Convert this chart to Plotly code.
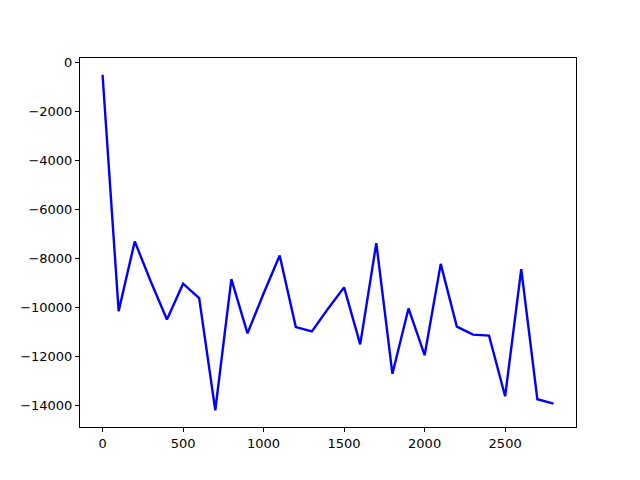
import plotly.graph_objects as go

x_vals = [0, 100, 200, 300, 400, 500, 600, 700, 800, 900, 1000, 1100, 1200, 1300, 1400,
          1500, 1600, 1700, 1800, 1900, 2000, 2100, 2200, 2300, 2400, 2500, 2600, 2700, 2800]
y_vals = [-490, -10150, -7300, -8950, -10490, -9030, -9620, -14200, -8845, -11060, -9430,
          -7880, -10800, -10980, -10050, -9180, -11510, -7370, -12710, -10040, -11950,
          -8220, -10780, -11110, -11150, -13630, -8430, -13750, -13930]

x_ticks = [0, 500, 1000, 1500, 2000, 2500]
y_ticks = [0, -2000, -4000, -6000, -8000, -10000, -12000, -14000]

fig = go.Figure()
fig.add_trace(go.Scatter(
    x=x_vals,
    y=y_vals,
    mode='lines',
    line=dict(color='#0000ff', width=2.4),
    showlegend=False,
))

axis_style = dict(
    showgrid=False,
    zeroline=False,
    showline=True,
    linecolor='black',
    linewidth=1,
    mirror=True,
    ticks='outside',
    ticklen=4,
    tickwidth=1,
    tickcolor='black',
    tickformat='d',
    tickfont=dict(family='DejaVu Sans', size=13, color='black'),
)

# page body adds an 8px offset, so margins are shifted to compensate
fig.update_layout(
    width=640,
    height=480,
    margin=dict(l=72, r=72, t=50, b=61),
    paper_bgcolor='white',
    plot_bgcolor='white',
    xaxis=dict(range=[-140, 2940], tickvals=x_ticks, **axis_style),
    yaxis=dict(range=[-14885, 195], tickvals=y_ticks, **axis_style),
)

fig.write_html("out.html")
